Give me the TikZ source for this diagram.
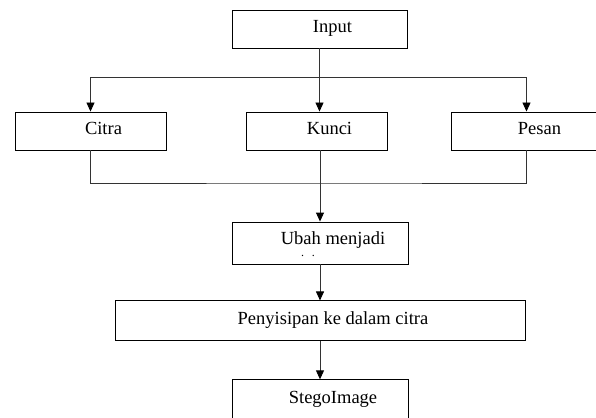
\documentclass[tikz,border=0pt]{standalone}
\usepackage{fontspec}
\setmainfont{Liberation Serif}
\usetikzlibrary{positioning,arrows.meta}

\tikzset{
	box/.style={draw=black, line width=0.9pt, minimum width=#1, inner sep=0pt},
	txt/.style={xshift=13pt, text height=0.68em, text depth=0pt, inner sep=0pt},
	line/.style={draw=black!80, line width=0.9pt},
	arr/.style={line, -{Triangle[length=9pt,width=8pt,color=black]}},
}

\begin{document}
\begin{tikzpicture}[x=1pt, y=-1pt, font=\fontsize{18.5}{22}\selectfont]
	\useasboundingbox (0,0) rectangle (596,417);
	\node[box=175pt, minimum height=38pt, label={[txt]center:Input}] (input) at (319.5,29) {};
	\node[box=151pt, minimum height=38pt, label={[txt]center:Citra}] (citra) at (90.5,131) {};
	\node[box=141pt, minimum height=38pt, label={[txt]center:Kunci}] (kunci) at (316.5,131) {};
	\node[box=151pt, minimum height=38pt, label={[txt]center:Pesan}] (pesan) at (526.5,131) {};
	\node[box=176pt, minimum height=42pt, label={[txt, yshift=2pt]center:Ubah menjadi}] (ubah) at (320,243) {};
	\node[box=410pt, minimum height=40pt, below=36pt of ubah, label={[txt]center:Penyisipan ke dalam citra}] (sisip) {};
	\node[box=176pt, minimum height=40pt, below=38pt of sisip, label={[txt]center:StegoImage}] (stego) {};
	\node[font=\fontsize{12}{12}\selectfont, inner sep=0pt] (sisa) at (308,256) {.\hspace{8pt}.};
	
	\coordinate (split) at (319.5,77);
	\coordinate (join) at (320,183);
	
	\draw[arr] (input) -- (input |- kunci.north);
	\draw[arr] (split) -| (citra);
	\draw[arr] (split) -| (pesan);
	\draw[line] (citra) |- (join) -| (pesan);
	\draw[arr] (ubah.north |- kunci.south) -- (ubah);
	\draw[arr] (ubah) -- (sisip);
	\draw[arr] (sisip) -- (stego);
\end{tikzpicture}
\end{document}
